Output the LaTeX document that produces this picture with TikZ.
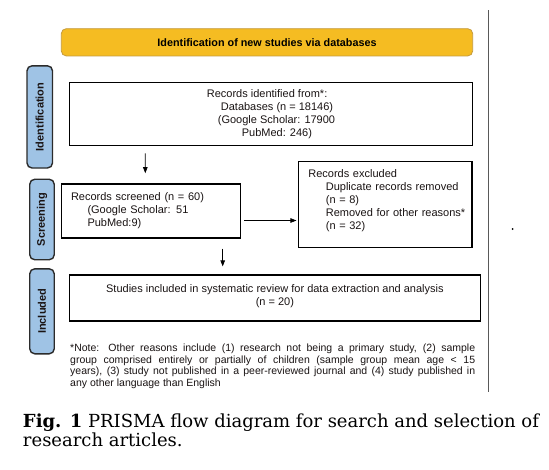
\documentclass[tikz,border=0pt]{standalone}
\usepackage{fontspec}
\setmainfont{Liberation Sans}
\newfontfamily\capfont{DejaVu Serif}
\usetikzlibrary{arrows.meta}
\definecolor{bannerfill}{HTML}{F5BC22}
\definecolor{bannerline}{HTML}{C49A3C}
\definecolor{tabfill}{HTML}{9FC3E5}
\definecolor{tabline}{HTML}{2B2B2B}
\definecolor{txt}{HTML}{1A1414}
\tikzset{
  banner/.style={draw=bannerline, fill=bannerfill, line width=0.8pt, rounded corners=5pt, inner sep=0pt,
    font=\fontsize{10.8}{12}\selectfont\bfseries},
  sidetab/.style={draw=tabline, fill=tabfill, line width=1.4pt, rounded corners=5pt, inner sep=0pt,
    font=\fontsize{11}{12}\selectfont\bfseries, text=txt},
  flowbox/.style={draw=black, fill=white, inner sep=0pt, text=txt,
    font=\fontsize{11}{13}\selectfont},
  arr/.style={-{Triangle[length=6pt,width=4.5pt]}, line width=0.7pt, black},
}
\begin{document}
\begin{tikzpicture}[x=1pt,y=-1pt]
\useasboundingbox[fill=white] (0,0) rectangle (549,469);

\node[banner, minimum width=411.4pt, minimum height=27.3pt] (banner) at (267,42.3)
  {Identification of new studies via databases};

\node[sidetab, minimum width=102.2pt, minimum height=25.5pt, rotate=90] (idtab) at (39.75,116.9) {Identification};
\node[sidetab, minimum width=80.5pt, minimum height=24.5pt, rotate=90] (sctab) at (42,219.5) {Screening};
\node[sidetab, minimum width=85pt, minimum height=24.5pt, rotate=90] (intab) at (42,311.3) {Included};

\node[flowbox, line width=0.8pt, minimum width=403.4pt, minimum height=63pt, align=left] (idbox) at (271,113.8)
  {Records identified from*:\\
   \hspace*{14pt}Databases (n = 18146)\\
   \hspace*{11pt}(Google Scholar: 17900\\
   \hspace*{35pt}PubMed: 246)};

\node[flowbox, line width=1.6pt, text width=159.8pt, inner xsep=9.7pt, minimum height=54.2pt, align=left] (scbox) at (150.9,210.9)
  {Records screened (n = 60)\\
   \hspace*{16.5pt}(Google Scholar: 51\\
   \hspace*{16.5pt}PubMed:9)};

\node[flowbox, line width=1.2pt, text width=153.7pt, inner xsep=10pt, minimum height=86.1pt, align=left] (exbox) at (385.2,204.8)
  {Records excluded\\
   \hspace*{17.5pt}\mbox{Duplicate records removed}\\
   \hspace*{17.5pt}(n = 8)\\
   \hspace*{17.5pt}\mbox{Removed for other reasons*}\\
   \hspace*{17.5pt}(n = 32)\rule[-10pt]{0pt}{10pt}};

\node[flowbox, line width=1.2pt, minimum width=411.2pt, minimum height=46pt, align=center] (inbox) at (274.9,298)
  {Studies included in systematic review for data extraction and analysis\\
   (n = 20)\rule[-5pt]{0pt}{5pt}};

\node[text width=405pt, inner sep=0pt, anchor=north west, align=justify, text=txt,
  font=\fontsize{10.5}{11.5}\selectfont] (note) at (70,344)
  {*Note: Other reasons include (1) research not being a primary study, (2) sample\linebreak
   group comprised entirely or partially of children (sample group mean age < 15\linebreak
   years), (3) study not published in a peer-reviewed journal and (4) study published in\linebreak
   any other language than English};

\node[inner sep=0pt, anchor=base west, align=left, font=\capfont\fontsize{18}{19.5}\selectfont] (caption) at (22.8,446.8)
  {\textbf{Fig. 1} PRISMA flow diagram for search and selection of\\research articles.};

\coordinate (vtop) at (488,10);
\coordinate (vbot) at (488,392);
\draw[line width=0.8pt, black!65] (vtop) -- (vbot);
\node[circle, fill=black, inner sep=0pt, minimum size=2pt] (dot) at (512.7,229) {};

\draw[arr] ([xshift=-125.7pt,yshift=-7.7pt]idbox.south) -- ([xshift=-5.6pt,yshift=9.8pt]scbox.north);
\draw[arr] ([xshift=2.8pt,yshift=-9.6pt]scbox.east) -- ([xshift=-1.3pt,yshift=-15.7pt]exbox.west);
\draw[arr] ([xshift=71.8pt,yshift=-9.8pt]scbox.south) -- ([xshift=-52.2pt,yshift=8pt]inbox.north);
\end{tikzpicture}
\end{document}
